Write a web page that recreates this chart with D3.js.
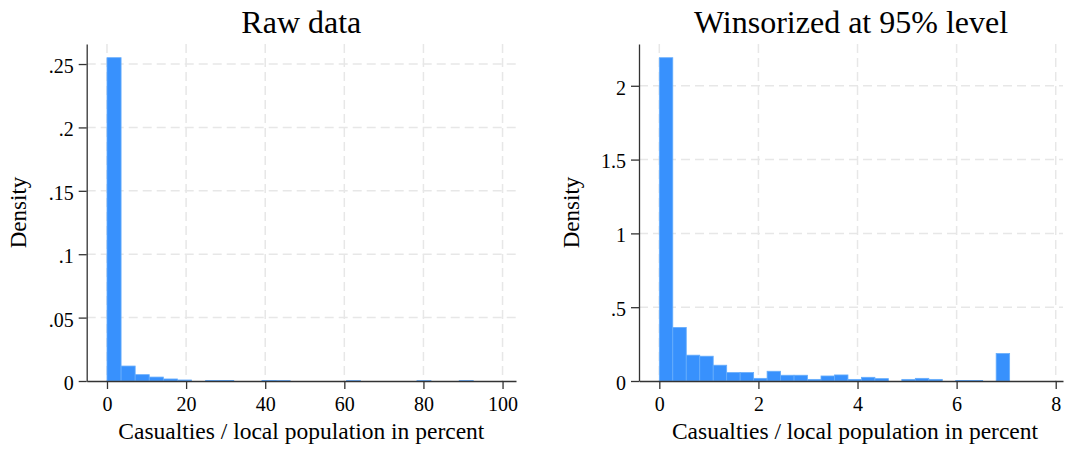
<!DOCTYPE html>
<html>
<head>
<meta charset="utf-8">
<script src="https://cdn.jsdelivr.net/npm/d3@7"></script>
<style>
  html, body { margin: 0; padding: 0; background: #fff; }
  svg { display: block; font-family: "Liberation Serif", serif; }
</style>
</head>
<body>
<div id="chart"></div>
<script>
// histogram densities, 26 equal bins each
const rawBinWidth = 92.6 / 26;
const rawDensity = [
  0.255, 0.0118, 0.005, 0.0031, 0.0016, 0.0008, 0, 0.0004, 0.0004, 0,
  0, 0.0004, 0.0003, 0, 0, 0, 0, 0.0003, 0, 0,
  0, 0, 0.0003, 0, 0, 0.0003
];
const winBinWidth = 7.07 / 26;
const winDensity = [
  2.19, 0.363, 0.175, 0.168, 0.107, 0.057, 0.057, 0.018, 0.066, 0.039,
  0.039, 0.011, 0.034, 0.041, 0.011, 0.025, 0.016, 0, 0.011, 0.018,
  0.011, 0, 0.004, 0.004, 0, 0.186
];

const rawXTicks = [0, 20, 40, 60, 80, 100];
const rawYTicks = [0, 0.05, 0.1, 0.15, 0.2, 0.25];
const winXTicks = [0, 2, 4, 6, 8];
const winYTicks = [0, 0.5, 1, 1.5, 2];

const titles = ['Raw data', 'Winsorized at 95% level'];
const xTitle = 'Casualties / local population in percent';
const yTitle = 'Density';

const W = 1065, H = 450;
const FILL = '#3891fd', EDGE = '#66adfc', GRID = '#e7e7e7', AXIS = '#333';

const svg = d3.select('#chart').append('svg')
  .attr('width', W).attr('height', H);
svg.append('rect').attr('width', W).attr('height', H).attr('fill', '#fff');

const fmt = d => d === 0 ? '0' : String(d).replace(/^0\./, '.');

function panel(cfg) {
  const x = d3.scaleLinear().domain(cfg.xDomain).range([cfg.left, cfg.right]);
  const y = d3.scaleLinear().domain(cfg.yDomain).range([cfg.bottom, cfg.top]);
  const g = svg.append('g');

  // dashed grid
  g.append('g').selectAll('line.h').data(cfg.yTicks.filter(d => d > 0)).join('line')
    .attr('x1', cfg.left).attr('x2', cfg.right)
    .attr('y1', d => y(d)).attr('y2', d => y(d))
    .attr('stroke', GRID).attr('stroke-width', 1.5).attr('stroke-dasharray', '9,5');
  g.append('g').selectAll('line.v').data(cfg.xTicks).join('line')
    .attr('x1', d => x(d)).attr('x2', d => x(d))
    .attr('y1', cfg.top).attr('y2', cfg.bottom)
    .attr('stroke', GRID).attr('stroke-width', 1.5).attr('stroke-dasharray', '9,5');

  // bars
  const bins = cfg.density.map((v, i) => ({ x0: i * cfg.binWidth, x1: (i + 1) * cfg.binWidth, v }));
  g.append('g').selectAll('rect').data(bins.filter(d => d.v > 0)).join('rect')
    .attr('x', d => x(d.x0))
    .attr('width', d => x(d.x1) - x(d.x0))
    .attr('y', d => y(d.v))
    .attr('height', d => y(0) - y(d.v))
    .attr('fill', FILL)
    .attr('stroke', EDGE).attr('stroke-width', 0.8);

  // axes
  const gx = g.append('g').attr('transform', `translate(0,${cfg.bottom})`)
    .call(d3.axisBottom(x).tickValues(cfg.xTicks).tickFormat(fmt)
      .tickSize(8).tickSizeOuter(0).tickPadding(8));
  const gy = g.append('g').attr('transform', `translate(${cfg.left},0)`)
    .call(d3.axisLeft(y).tickValues(cfg.yTicks).tickFormat(fmt)
      .tickSize(8).tickSizeOuter(0).tickPadding(5));
  [gx, gy].forEach(a => {
    a.select('.domain').attr('stroke', AXIS).attr('stroke-width', 1.3);
    a.selectAll('.tick line').attr('stroke', AXIS).attr('stroke-width', 1.3);
    a.selectAll('.tick text').attr('fill', '#000')
      .style('font-size', '20px').style('font-family', '"Liberation Serif", serif');
  });
  gy.selectAll('.tick text').attr('dy', '0.42em');

  const cx = (cfg.left + cfg.right) / 2;
  g.append('text').attr('x', cx).attr('y', 33)
    .attr('text-anchor', 'middle').style('font-size', '32px').text(cfg.title);
  g.append('text').attr('x', cx + cfg.xTitleShift).attr('y', 439)
    .attr('text-anchor', 'middle').style('font-size', '23.5px').text(xTitle);
  g.append('text')
    .attr('transform', `translate(${cfg.yTitleX},${(cfg.top + cfg.bottom) / 2}) rotate(-90)`)
    .attr('text-anchor', 'middle').style('font-size', '23px').text(yTitle);
}

panel({
  title: titles[0], density: rawDensity, binWidth: rawBinWidth,
  xTicks: rawXTicks, yTicks: rawYTicks,
  xDomain: [-5.13, 103.4], yDomain: [0, 0.2658],
  left: 86.7, right: 516, top: 44, bottom: 381,
  yTitleX: 26, xTitleShift: 0
});
panel({
  title: titles[1], density: winDensity, binWidth: winBinWidth,
  xTicks: winXTicks, yTicks: winYTicks,
  xDomain: [-0.41, 8.147], yDomain: [0, 2.283],
  left: 639, right: 1063, top: 44, bottom: 381,
  yTitleX: 579, xTitleShift: 4
});
</script>
</body>
</html>
